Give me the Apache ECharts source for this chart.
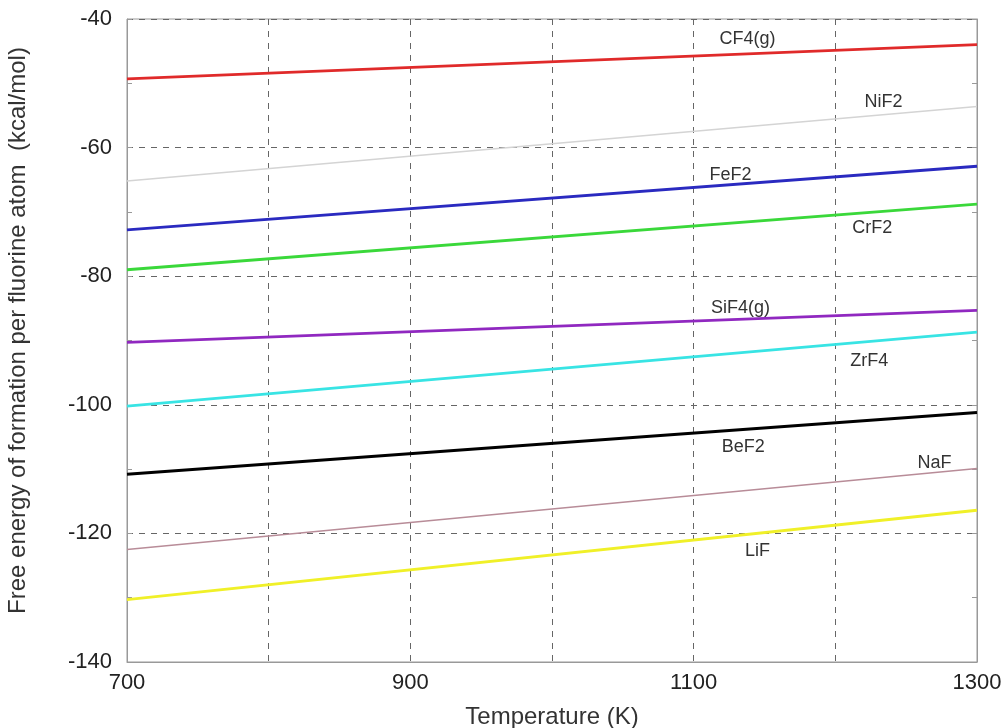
<!DOCTYPE html>
<html><head><meta charset="utf-8">
<script src="https://cdn.jsdelivr.net/npm/echarts@6/dist/echarts.min.js"></script>
<style>html,body{margin:0;padding:0;background:#fff}#c{width:1006px;height:728px}</style>
</head><body><div id="c"></div>
<script>
const temps = [700, 1300];
const names = ['CF4(g)', 'NiF2', 'FeF2', 'CrF2', 'SiF4(g)', 'ZrF4', 'BeF2', 'NaF', 'LiF'];
const cf4 = [-49.3, -44.0];
const nif2 = [-65.2, -53.6];
const fef2 = [-72.8, -62.9];
const crf2 = [-79.0, -68.8];
const sif4 = [-90.3, -85.3];
const zrf4 = [-100.2, -88.7];
const bef2 = [-110.8, -101.2];
const naf = [-122.5, -109.9];
const lif = [-130.3, -116.4];
const values = [cf4, nif2, fef2, crf2, sif4, zrf4, bef2, naf, lif];
const labelPos = [[1138, -43.1], [1234, -52.9], [1126, -64.3], [1226, -72.5], [1133, -84.9], [1224, -93.2], [1135, -106.6], [1270, -109.1], [1145, -122.7]];
const colors = ['#e02a2a', '#d4d4d4', '#2a2ac0', '#3ad83a', '#9028c0', '#38e4e4', '#000000', '#b88c98', '#f0f028'];
const widths = [2.8, 1.6, 2.8, 2.8, 2.8, 2.8, 2.8, 1.6, 2.8];
const xTicks = [700, 900, 1100, 1300];

const chart = echarts.init(document.getElementById('c'));
const font = 'Liberation Sans, Arial, sans-serif';
const yCommon = {
  type: 'value', min: -140, max: -40, interval: 20,
  axisLine: {show: true, lineStyle: {color: '#999'}},
  axisTick: {show: true, inside: true, length: 5, lineStyle: {color: '#999'}},
  minorTick: {show: true, splitNumber: 2, length: 5, lineStyle: {color: '#999'}},
};
chart.setOption({
  animation: false,
  grid: {left: 127, right: 29, top: 19, bottom: 66, containLabel: false, outerBoundsMode: 'none',
    show: true, borderColor: '#999', borderWidth: 1},
  xAxis: {
    type: 'value', min: 700, max: 1300, interval: 100,
    name: 'Temperature (K)', nameLocation: 'middle', nameGap: 43,
    nameTextStyle: {fontSize: 24, color: '#333', fontFamily: font},
    axisLine: {show: true, lineStyle: {color: '#999'}},
    axisTick: {show: false},
    axisLabel: {fontSize: 22, color: '#222', fontFamily: font, margin: 10,
      formatter: v => xTicks.includes(v) ? String(v) : ''},
    splitLine: {show: true, lineStyle: {type: [6, 6], color: '#666', width: 1}}
  },
  yAxis: [
    Object.assign({}, yCommon, {
      position: 'left',
      name: 'Free energy of formation per fluorine atom  (kcal/mol)', nameLocation: 'middle', nameGap: 97,
      nameTextStyle: {fontSize: 24, color: '#333', fontFamily: font, padding: [0, 0, 0, 20]},
      axisLabel: {fontSize: 22, color: '#222', fontFamily: font, margin: 15},
      splitLine: {show: true, lineStyle: {type: [6, 6], color: '#666', width: 1}}
    }),
    Object.assign({}, yCommon, {
      position: 'right',
      axisLabel: {show: false},
      splitLine: {show: false}
    })
  ],
  series: names.map((n, i) => ({
    type: 'line', name: n, showSymbol: false, symbol: 'none',
    data: temps.map((t, j) => [t, values[i][j]]),
    lineStyle: {color: colors[i], width: widths[i]},
    z: 3,
    markPoint: {
      symbol: 'circle', symbolSize: 0,
      data: [{coord: labelPos[i], value: n}],
      label: {show: true, position: 'inside', formatter: n, fontSize: 18, color: '#333', fontFamily: font}
    }
  }))
});
</script></body></html>
